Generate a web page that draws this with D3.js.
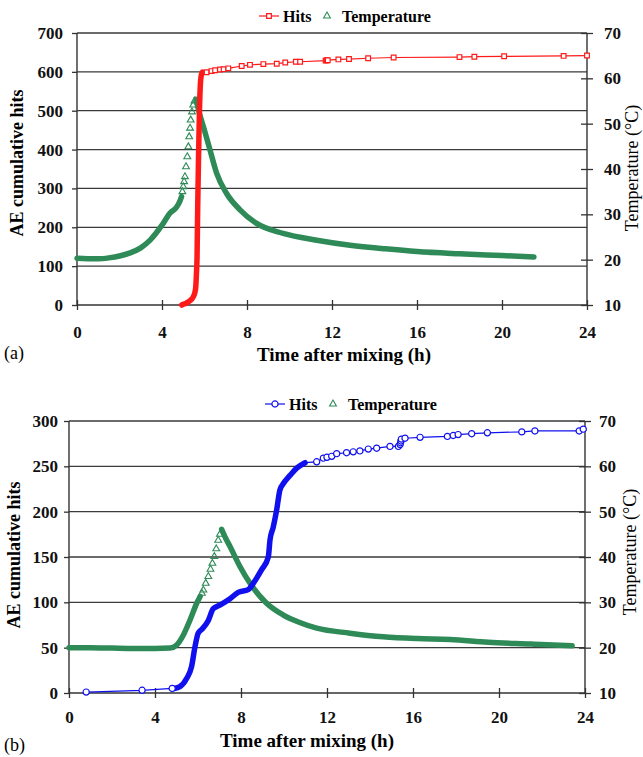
<!DOCTYPE html>
<html>
<head>
<meta charset="utf-8">
<script src="https://cdn.jsdelivr.net/npm/d3@7"></script>
<style>
  body { margin: 0; background: #fff; }
  text { font-family: "Liberation Serif", "DejaVu Serif", "Times New Roman", serif !important; }
</style>
</head>
<body>
<div id="chart"></div>
<script>
// ---- data: time after mixing (h), AE cumulative hits, temperature (C)
var xTicks = [0, 4, 8, 12, 16, 20, 24];
var tempTicks = [10, 20, 30, 40, 50, 60, 70];
var hitTicksA = [0, 100, 200, 300, 400, 500, 600, 700];
var hitTicksB = [0, 50, 100, 150, 200, 250, 300];

// panel (a)
var hitsDenseA = [[4.93,0],[5.0,2],[5.12,4],[5.24,8],[5.36,13],[5.47,21],[5.55,33],[5.59,47],[5.62,80],
  [5.65,124],[5.68,253],[5.72,382],[5.76,493],[5.80,562],[5.85,592],[5.90,599]];
var hitsSparseA = [[6.1,599],[6.33,602],[6.5,604],[6.73,606],[6.9,607],[7.12,609],[7.75,615],[8.14,618],
  [8.77,620],[9.4,621],[9.8,624],[10.3,626],[10.5,626],[11.7,629],[11.75,630],[11.8,630],[12.3,632],
  [12.8,633],[13.7,635],[14.9,637],[18.0,638],[18.7,639],[20.1,640],[22.9,641],[24.0,642]];
var tempRampA = [[0,20.3],[0.5,20.2],[1,20.2],[1.5,20.4],[2,20.8],[2.5,21.5],[3,22.6],[3.44,24.3],
  [4.0,27.6],[4.38,30.3],[4.69,31.6],[4.85,33.0],[4.92,33.9]];
var tempRiseA = [[4.96,35.0],[5.0,36.1],[5.04,37.2],[5.08,38.3],[5.13,40.5],[5.19,42.7],[5.24,44.9],
  [5.28,47.1],[5.32,49.0],[5.35,50.8],[5.41,52.6],[5.47,54.1],[5.53,55.0]];
var tempDecayA = [[5.6,55.4],[5.75,52.5],[5.95,49.3],[6.26,44.2],[6.57,39.1],[7.04,34.6],[7.67,31.0],
  [8.45,28.0],[9.7,25.8],[11.28,24.3],[12.85,23.2],[14.5,22.4],[16,21.8],[18,21.3],[20,20.9],[21.5,20.6]];

// panel (b)
var hitsEarlyB = [[0.8,1],[3.4,3],[4.8,5]];
var hitsDenseB = [[4.9,5],[5.16,7],[5.47,16],[5.7,29],[5.86,51],[6.01,66],[6.17,70],[6.48,80],[6.71,93],
  [7.02,97],[7.49,104],[7.87,111],[8.34,114],[8.57,121],[8.96,136],[9.27,150],[9.35,169],[9.5,183],
  [9.66,202],[9.81,224],[9.97,231],[10.28,240],[10.59,248],[10.98,254]];
var hitsSparseB = [[11.52,255],[11.83,259],[12.0,260],[12.22,261],[12.45,264],[12.91,265],[13.22,266],
  [13.53,267],[13.92,269],[14.31,270],[14.93,272],[15.32,272],[15.4,274],[15.42,276],[15.44,278],
  [15.46,280],[15.63,281],[16.33,282],[17.6,283],[17.87,284],[18.1,285],[18.73,286],[19.46,287],
  [21.06,288],[21.67,289],[23.73,289],[23.92,291]];
var tempRampB = [[0,20.0],[1,20.0],[2,19.9],[3,19.8],[4,19.8],[4.7,19.9],[5.01,20.6],[5.32,22.8],
  [5.63,26.1],[5.94,29.8],[6.1,31.3]];
var tempRiseB = [[6.18,32.0],[6.25,32.7],[6.36,34.2],[6.48,35.7],[6.58,37.3],[6.67,38.6],[6.76,40.1],
  [6.85,41.8],[6.94,43.7],[7.02,45.0]];
var tempDecayB = [[7.1,46.1],[7.25,44.5],[7.49,42.3],[7.95,37.9],[8.42,34.2],[9.19,29.8],[9.97,27.2],
  [10.7,25.6],[11.52,24.3],[13.07,23.2],[14.62,22.4],[16.2,22.0],[17.72,21.8],[19.5,21.2],[21.5,20.8],[23.4,20.4]];

var green = "#2e8b57";
var serif = '"Liberation Serif", "DejaVu Serif", "Times New Roman", serif';

var svg = d3.select("#chart").append("svg")
    .attr("width", 643)
    .attr("height", 757)
    .attr("font-family", serif);

function drawPanel(p) {
    var x = d3.scaleLinear().domain([0, 24]).range([p.left, p.right]);
    var y = d3.scaleLinear().domain([0, p.hitMax]).range([p.bottom, p.top]);
    var yT = d3.scaleLinear().domain([10, 70]).range([p.bottom, p.top]);
    var g = svg.append("g");

    // gridlines
    g.append("g").selectAll("line")
        .data(p.hitTicks.slice(1))
        .enter().append("line")
        .attr("x1", p.left).attr("x2", p.right)
        .attr("y1", d => y(d)).attr("y2", d => y(d))
        .attr("stroke", "#3a3a3a").attr("stroke-width", 1.3);

    // left axis
    var ax = g.append("g")
        .attr("transform", "translate(" + p.left + ",0)")
        .call(d3.axisLeft(y).tickValues(p.hitTicks).tickSize(5).tickPadding(p.leftPad));
    // right axis
    var ar = g.append("g")
        .attr("transform", "translate(" + p.right + ",0)")
        .call(d3.axisRight(yT).tickValues(tempTicks).tickSize(6).tickPadding(p.rightPad));
    ar.selectAll(".tick line").attr("x1", -6);
    // bottom axis
    var ab = g.append("g")
        .attr("transform", "translate(0," + p.bottom + ")")
        .call(d3.axisBottom(x).tickValues(xTicks).tickSize(5).tickPadding(p.bottomPad));
    ab.selectAll(".tick line").attr("y1", -5);

    [ax, ar, ab].forEach(function (a) {
        a.attr("font-family", serif);
        a.select(".domain").attr("stroke", "#333").attr("stroke-width", 1.4);
        a.selectAll(".tick line").attr("stroke", "#333").attr("stroke-width", 1.3);
        a.selectAll("text")
            .style("font-family", serif)
            .style("font-size", "17px")
            .style("font-weight", "bold")
            .attr("fill", "#111");
    });
    ax.select(".domain").attr("d", "M0," + p.bottom + "V" + p.top);
    ar.select(".domain").attr("d", "M0," + p.bottom + "V" + p.top);
    ab.select(".domain").attr("d", "M" + p.left + ",0H" + p.right);

    var line = d3.line().x(d => x(d[0])).y(d => y(d[1]));
    var lineT = d3.line().x(d => x(d[0])).y(d => yT(d[1]));

    // temperature: dense thick band + separate triangles on the fast rise
    [p.tempRamp, p.tempDecay].forEach(function (arr) {
        g.append("path").datum(arr)
            .attr("d", lineT.curve(d3.curveMonotoneX))
            .attr("fill", "none").attr("stroke", green)
            .attr("stroke-width", 5.5).attr("stroke-linejoin", "round").attr("stroke-linecap", "round");
    });
    var tri = d3.symbol().type(d3.symbolTriangle).size(20);
    g.append("g").selectAll("path")
        .data(p.tempRise)
        .enter().append("path")
        .attr("d", tri)
        .attr("transform", d => "translate(" + x(d[0]) + "," + yT(d[1]) + ")")
        .attr("fill", "none").attr("stroke", green).attr("stroke-width", 1.1);

    // hits
    var allHits = p.hitsEarly.concat(p.hitsDense, p.hitsSparse);
    g.append("path").datum(allHits)
        .attr("d", line.curve(d3.curveLinear))
        .attr("fill", "none").attr("stroke", p.color).attr("stroke-width", 1.2);
    g.append("path").datum(p.hitsDense)
        .attr("d", line.curve(d3.curveMonotoneX))
        .attr("fill", "none").attr("stroke", p.color)
        .attr("stroke-width", 5.5).attr("stroke-linejoin", "round").attr("stroke-linecap", "round");
    var mk = d3.symbol().type(p.symbol).size(p.symbolSize);
    g.append("g").selectAll("path")
        .data(p.hitsEarly.concat(p.hitsSparse))
        .enter().append("path")
        .attr("d", mk)
        .attr("transform", d => "translate(" + x(d[0]) + "," + y(d[1]) + ")")
        .attr("fill", "#fff").attr("stroke", p.color).attr("stroke-width", 1.2);

    // legend
    var lg = g.append("g").attr("transform", "translate(0," + p.legendY + ")");
    lg.append("line").attr("x1", p.legendX).attr("x2", p.legendX + 20)
        .attr("stroke", p.color).attr("stroke-width", 1.2);
    lg.append("path").attr("d", mk)
        .attr("transform", "translate(" + (p.legendX + 10) + ",0)")
        .attr("fill", "#fff").attr("stroke", p.color).attr("stroke-width", 1.2);
    lg.append("text").attr("x", p.legendX + 24).attr("y", 5.5)
        .text("Hits").style("font-size", "16px").style("font-weight", "bold");
    lg.append("path").attr("d", tri)
        .attr("transform", "translate(" + (p.legendX + 68) + ",0)")
        .attr("fill", "none").attr("stroke", green).attr("stroke-width", 1.1);
    lg.append("text").attr("x", p.legendX + 83).attr("y", 5.5)
        .text("Temperature").style("font-size", "16px").style("font-weight", "bold");

    // axis titles
    g.append("text")
        .attr("transform", "translate(" + p.yTitleX + "," + p.yTitleY + ") rotate(-90)")
        .attr("text-anchor", "middle")
        .style("font-size", "18px").style("font-weight", "bold")
        .text("AE cumulative hits");
    g.append("text")
        .attr("transform", "translate(" + p.rTitleX + "," + p.rTitleY + ") rotate(-90)")
        .attr("text-anchor", "middle")
        .style("font-size", "18px")
        .text("Temperature (°C)");
    g.append("text")
        .attr("x", p.xTitleX).attr("y", p.xTitleY)
        .style("font-size", "19px").style("font-weight", "bold")
        .text("Time after mixing (h)");
    g.append("text")
        .attr("x", 4).attr("y", p.tagY)
        .style("font-size", "18px")
        .text(p.tag);
}

drawPanel({
    left: 77, right: 587, top: 33, bottom: 305, hitMax: 700, hitTicks: hitTicksA,
    leftPad: 9, rightPad: 11, bottomPad: 16,
    color: "#ff1a1a", symbol: d3.symbolSquare, symbolSize: 22,
    hitsEarly: [], hitsDense: hitsDenseA, hitsSparse: hitsSparseA,
    tempRamp: tempRampA, tempRise: tempRiseA, tempDecay: tempDecayA,
    legendX: 259, legendY: 16,
    yTitleX: 23, yTitleY: 163, rTitleX: 638, rTitleY: 168,
    xTitleX: 257, xTitleY: 361, tag: "(a)", tagY: 359
});

drawPanel({
    left: 69, right: 585, top: 421, bottom: 693, hitMax: 300, hitTicks: hitTicksB,
    leftPad: 6, rightPad: 8, bottomPad: 13,
    color: "#1010ee", symbol: d3.symbolCircle, symbolSize: 30,
    hitsEarly: hitsEarlyB, hitsDense: hitsDenseB, hitsSparse: hitsSparseB,
    tempRamp: tempRampB, tempRise: tempRiseB, tempDecay: tempDecayB,
    legendX: 265, legendY: 404,
    yTitleX: 20, yTitleY: 555, rTitleX: 636, rTitleY: 552,
    xTitleX: 220, xTitleY: 747, tag: "(b)", tagY: 751
});
</script>
</body>
</html>
